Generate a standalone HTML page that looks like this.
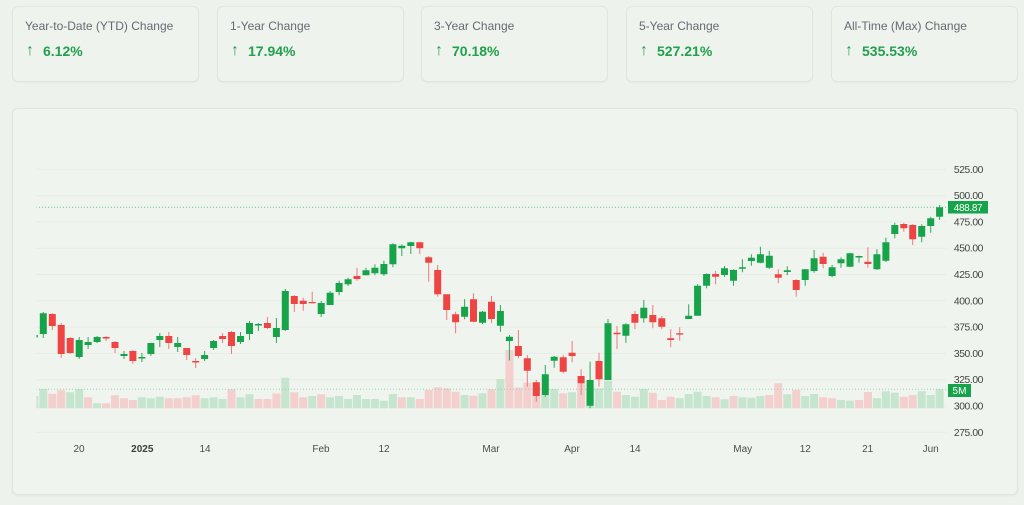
<!DOCTYPE html>
<html><head><meta charset="utf-8">
<style>
html,body{margin:0;padding:0;}
body{width:1024px;height:505px;background:#edf2ed;position:relative;overflow:hidden;font-family:"Liberation Sans",Arial,sans-serif;}
.card{position:absolute;top:6px;width:187px;height:76px;box-sizing:border-box;border:1px solid #dfe6e0;border-radius:6px;background:#eef3ee;box-shadow:0 1px 1px rgba(0,0,0,0.03);}
.card .t{position:absolute;left:12px;top:12px;font-size:12px;line-height:14px;color:#656b72;white-space:nowrap;}
.card .a{position:absolute;left:13px;top:35px;font-size:16px;line-height:17px;color:#22a34f;}
.card .v{position:absolute;left:30px;top:36px;font-size:14px;line-height:16px;font-weight:bold;color:#22a04d;white-space:nowrap;}
.chart{position:absolute;left:12px;top:108px;width:1006px;height:387px;box-sizing:border-box;border:1px solid #dfe6e0;border-radius:6px;background:#eff4ef;box-shadow:0 1px 2px rgba(0,0,0,0.05);}
svg{position:absolute;left:0;top:0;}
</style></head>
<body>
<div class="card" style="left:12px"><div class="t">Year-to-Date (YTD) Change</div><div class="a">↑</div><div class="v">6.12%</div></div>
<div class="card" style="left:217px"><div class="t">1-Year Change</div><div class="a">↑</div><div class="v">17.94%</div></div>
<div class="card" style="left:421px"><div class="t">3-Year Change</div><div class="a">↑</div><div class="v">70.18%</div></div>
<div class="card" style="left:626px"><div class="t">5-Year Change</div><div class="a">↑</div><div class="v">527.21%</div></div>
<div class="card" style="left:831px"><div class="t">All-Time (Max) Change</div><div class="a">↑</div><div class="v">535.53%</div></div>
<div class="chart"></div>
<svg width="1024" height="505" viewBox="0 0 1024 505" xmlns="http://www.w3.org/2000/svg">
<defs><clipPath id="pl"><rect x="36.5" y="110" width="910" height="330"/></clipPath></defs>
<g stroke="#e8ece8" stroke-width="1">
<path d="M36 169.3H946M36 195.6H946M36 221.9H946M36 248.2H946M36 274.5H946M36 300.8H946M36 327.1H946M36 353.4H946M36 379.7H946M36 406H946M36 432.3H946"/>
</g>
<g clip-path="url(#pl)">
<path fill="#c6e5cf" d="M30.3 396h8V408.3h-8zM39.3 389h8V408.3h-8zM66.2 392.3h8V408.3h-8zM75.2 389h8V408.3h-8zM93.1 403.3h8V408.3h-8zM137.9 397.3h8V408.3h-8zM146.9 398.3h8V408.3h-8zM155.8 396.7h8V408.3h-8zM200.6 398.3h8V408.3h-8zM209.6 397.3h8V408.3h-8zM218.6 399h8V408.3h-8zM236.5 397.3h8V408.3h-8zM245.5 394.3h8V408.3h-8zM281.3 377.7h8V408.3h-8zM308.2 396h8V408.3h-8zM326.1 397.3h8V408.3h-8zM335.1 396h8V408.3h-8zM344.1 399h8V408.3h-8zM353 395h8V408.3h-8zM362 399h8V408.3h-8zM370.9 399h8V408.3h-8zM379.9 400.7h8V408.3h-8zM388.9 394h8V408.3h-8zM406.8 397.3h8V408.3h-8zM460.6 395h8V408.3h-8zM478.5 393.3h8V408.3h-8zM496.4 379h8V408.3h-8zM541.3 395h8V408.3h-8zM550.2 389h8V408.3h-8zM568.1 392.3h8V408.3h-8zM586.1 388.3h8V408.3h-8zM595 388.3h8V408.3h-8zM604 380.7h8V408.3h-8zM621.9 395h8V408.3h-8zM630.9 396.7h8V408.3h-8zM639.8 389h8V408.3h-8zM675.7 398.3h8V408.3h-8zM684.7 394h8V408.3h-8zM693.6 391.7h8V408.3h-8zM702.6 396h8V408.3h-8zM720.5 399.3h8V408.3h-8zM738.4 397.3h8V408.3h-8zM747.4 397.7h8V408.3h-8zM756.4 396h8V408.3h-8zM783.3 394.3h8V408.3h-8zM801.2 396h8V408.3h-8zM810.1 394h8V408.3h-8zM837 400h8V408.3h-8zM846 400.7h8V408.3h-8zM872.9 398.3h8V408.3h-8zM881.9 391.3h8V408.3h-8zM890.8 392.7h8V408.3h-8zM917.7 391.3h8V408.3h-8zM926.7 395h8V408.3h-8zM935.6 389.3h8V408.3h-8z"/>
<path fill="#f3cfce" d="M48.3 393.7h8V408.3h-8zM57.2 390.3h8V408.3h-8zM84.1 397.3h8V408.3h-8zM102.1 403.3h8V408.3h-8zM111 395.3h8V408.3h-8zM120 398.3h8V408.3h-8zM128.9 400h8V408.3h-8zM164.8 398.3h8V408.3h-8zM173.7 398.3h8V408.3h-8zM182.7 397.3h8V408.3h-8zM191.7 395.3h8V408.3h-8zM227.5 389.3h8V408.3h-8zM254.4 399h8V408.3h-8zM263.4 399h8V408.3h-8zM272.4 393.5h8V408.3h-8zM290.3 392.3h8V408.3h-8zM299.2 397.3h8V408.3h-8zM317.2 394.3h8V408.3h-8zM397.8 397.3h8V408.3h-8zM415.8 399h8V408.3h-8zM424.7 390h8V408.3h-8zM433.7 387.3h8V408.3h-8zM442.7 388.3h8V408.3h-8zM451.6 391.7h8V408.3h-8zM469.5 395.7h8V408.3h-8zM487.5 389.3h8V408.3h-8zM505.4 350h8V408.3h-8zM514.4 387.5h8V408.3h-8zM523.3 382.7h8V408.3h-8zM532.3 382.3h8V408.3h-8zM559.2 393.3h8V408.3h-8zM577.1 383.3h8V408.3h-8zM613 391.7h8V408.3h-8zM648.8 392.7h8V408.3h-8zM657.8 400h8V408.3h-8zM666.7 396.7h8V408.3h-8zM711.6 397.3h8V408.3h-8zM729.5 396h8V408.3h-8zM765.3 395h8V408.3h-8zM774.3 383.3h8V408.3h-8zM792.2 390h8V408.3h-8zM819.1 397.3h8V408.3h-8zM828.1 398.3h8V408.3h-8zM855 400h8V408.3h-8zM863.9 392h8V408.3h-8zM899.8 396.7h8V408.3h-8zM908.7 395h8V408.3h-8z"/>
<line x1="36" y1="389.3" x2="946" y2="389.3" stroke="#9fd3ad" stroke-width="1" stroke-dasharray="1 2"/>
<line x1="36" y1="207.3" x2="946" y2="207.3" stroke="#6cc187" stroke-width="1" stroke-dasharray="1 2"/>
<path fill="none" stroke="#2fa85a" stroke-width="1" d="M34.3 334V338M43.3 312V338M79.2 337V359M88.1 337V349M97.1 336V343M124 351V359M141.9 353V362M150.9 343V356M159.8 333V347M177.7 337V352M204.6 351V361M213.6 340V350M240.5 332V344M249.5 321V340M258.4 323V331M276.4 318V343M285.3 289V331M321.2 301V317M330.1 291V305M339.1 280.7V295.3M348.1 277.7V286M366 267.7V275.3M374.9 264.3V275.3M383.9 260.7V275.7M392.9 243.3V267.3M401.8 244.3V256M410.8 241.7V254M464.6 299.3V319.3M482.5 311V324M500.4 305V331.7M509.4 335V360.5M545.3 365V396.7M554.2 356V367.7M590.1 361.7V408.3M608 319V380M625.9 323.3V342.7M643.8 300V322.7M688.7 304.3V319M697.6 284.3V315.7M706.6 273.3V288.3M724.5 266V276.7M733.5 269.3V285.7M742.4 259.3V272.3M751.4 254.3V265.7M760.4 246.7V263.3M769.3 251V269M787.3 266.3V275.3M805.2 269V285.7M814.1 250V272.7M832.1 265V277.3M841 257.3V267.7M850 252.7V267.3M859 255.7V262.7M876.9 249.3V270M885.9 237.7V262M894.8 222.7V238.3M921.7 224.3V242.3M930.7 216.7V232.7M939.6 205V220"/>
<path fill="none" stroke="#f17a7a" stroke-width="1" d="M52.3 313V330M61.2 323V358M70.2 337V354M106.1 336V341M115 341V353M132.9 350V364M168.8 332V349M186.7 348V360M195.7 358V368M222.6 333V343M231.5 331V354M267.4 317V329M294.3 295V312M303.2 297.7V310.7M312.2 291.7V303.2M357 267.7V280.7M419.8 241.7V254M428.7 256V281.7M437.7 265V296.7M446.7 294.3V320M455.6 311.7V333.3M473.5 293.3V322.3M491.5 296V323.3M518.4 330V358.3M527.3 355V386.7M536.3 380V401.7M563.2 355V373.3M572.1 341V362.3M581.1 369.3V395M599 352.7V386.7M617 326V349M634.9 311V329.3M652.8 305V328.3M661.8 316V329.3M670.7 329.3V347.3M679.7 327.3V340.7M715.6 271V284.3M778.3 269.3V283.3M796.2 279.3V296.7M823.1 252.7V268.3M867.9 247.3V267.7M903.8 222.7V231.7M912.7 224V245"/>
<path fill="#16a34a" d="M30.8 335h7V337.5h-7zM39.8 313.3h7V334h-7zM75.7 340h7V357h-7zM84.6 342h7V345h-7zM93.6 337h7V342h-7zM120.5 354h7V356h-7zM138.4 357h7V358.5h-7zM147.4 343h7V354h-7zM156.3 336h7V340h-7zM174.2 343h7V347h-7zM201.1 355h7V359h-7zM210.1 341h7V348h-7zM237 336h7V342h-7zM246 323h7V334h-7zM254.9 324h7V325.5h-7zM272.9 328h7V337h-7zM281.8 291h7V330h-7zM317.7 303h7V314h-7zM326.6 292.7h7V305h-7zM335.6 283h7V292h-7zM344.6 279.3h7V284.3h-7zM362.5 270.3h7V275.3h-7zM371.4 267.7h7V273.3h-7zM380.4 264h7V274.3h-7zM389.4 244.3h7V264.3h-7zM398.3 245.7h7V248.3h-7zM407.3 242.3h7V246h-7zM461.1 306.7h7V316.7h-7zM479 311.7h7V322.7h-7zM496.9 311h7V325.7h-7zM505.9 336.7h7V341h-7zM541.8 374.3h7V395h-7zM550.7 356.7h7V360.7h-7zM586.6 380h7V405.7h-7zM604.5 323.3h7V380h-7zM622.4 324.3h7V335.7h-7zM640.3 307.7h7V318.3h-7zM685.2 315.7h7V319h-7zM694.1 285.7h7V315.7h-7zM703.1 274h7V285.7h-7zM721 268.3h7V275h-7zM730 270h7V280.7h-7zM738.9 267.3h7V268.8h-7zM747.9 257.7h7V261h-7zM756.9 254.3h7V262.7h-7zM765.8 255.7h7V267.7h-7zM783.8 270.3h7V272h-7zM801.7 269.3h7V280h-7zM810.6 258.3h7V271h-7zM828.6 267.3h7V276h-7zM837.5 259.3h7V263.3h-7zM846.5 253.3h7V266.7h-7zM855.5 256h7V257.5h-7zM873.4 254.3h7V269.3h-7zM882.4 242.3h7V260.7h-7zM891.3 225h7V234h-7zM918.2 226h7V236.7h-7zM927.2 218.3h7V226h-7zM936.1 207.3h7V216.7h-7z"/>
<path fill="#ef4444" d="M48.8 314h7V326h-7zM57.7 325h7V354h-7zM66.7 338h7V353h-7zM102.6 337h7V338.5h-7zM111.5 342h7V348h-7zM129.4 351h7V361h-7zM165.3 336h7V343h-7zM183.2 348h7V355h-7zM192.2 361h7V362.5h-7zM219.1 336h7V339h-7zM228 332h7V346h-7zM263.9 323h7V328h-7zM290.8 296h7V304h-7zM299.7 300.7h7V304h-7zM308.7 302h7V303.2h-7zM353.5 276h7V279h-7zM416.3 242.3h7V248.3h-7zM425.2 257.3h7V262.7h-7zM434.2 270h7V294.3h-7zM443.2 294.3h7V310h-7zM452.1 314.3h7V322.3h-7zM470 299.3h7V321.7h-7zM488 301.7h7V319h-7zM514.9 346h7V356h-7zM523.8 358.3h7V370.7h-7zM532.8 382.3h7V396h-7zM559.7 357.3h7V371.7h-7zM568.6 352.7h7V356h-7zM577.6 376h7V383.3h-7zM595.5 361h7V379.3h-7zM613.5 332.7h7V334.3h-7zM631.4 314h7V322.7h-7zM649.3 315h7V322.3h-7zM658.3 318.3h7V326.7h-7zM667.2 338.3h7V340h-7zM676.2 333.3h7V334.6h-7zM712.1 274h7V276.7h-7zM774.8 274.3h7V277.7h-7zM792.7 280h7V290h-7zM819.6 256.7h7V264h-7zM864.4 261.7h7V264h-7zM900.3 224h7V228.3h-7zM909.2 225h7V239.3h-7z"/>
</g>
<g font-family="Liberation Sans, Arial, sans-serif" font-size="10.3" fill="#3f443f" text-anchor="end" letter-spacing="-0.4">
<text x="983" y="172.8">525.00</text>
<text x="983" y="199.1">500.00</text>
<text x="983" y="225.4">475.00</text>
<text x="983" y="251.7">450.00</text>
<text x="983" y="278">425.00</text>
<text x="983" y="304.3">400.00</text>
<text x="983" y="330.6">375.00</text>
<text x="983" y="356.9">350.00</text>
<text x="983" y="383.2">325.00</text>
<text x="983" y="409.5">300.00</text>
<text x="983" y="435.8">275.00</text>
</g>
<rect x="948" y="201" width="40" height="12.5" fill="#16a34a"/>
<text x="968" y="210.8" font-family="Liberation Sans, Arial, sans-serif" font-size="10" fill="#ffffff" text-anchor="middle" letter-spacing="-0.35">488.87</text>
<rect x="948" y="384" width="23" height="13" fill="#16a34a"/>
<text x="959.5" y="394" font-family="Liberation Sans, Arial, sans-serif" font-size="10" fill="#ffffff" text-anchor="middle">5M</text>
<g font-family="Liberation Sans, Arial, sans-serif" font-size="10" fill="#4a4f4a" text-anchor="middle">
<text x="79" y="452">20</text>
<text x="142.3" y="452" font-weight="bold" fill="#3a3f3a">2025</text>
<text x="205" y="452">14</text>
<text x="321" y="452">Feb</text>
<text x="384" y="452">12</text>
<text x="491" y="452">Mar</text>
<text x="572" y="452">Apr</text>
<text x="635" y="452">14</text>
<text x="742.7" y="452">May</text>
<text x="805.3" y="452">12</text>
<text x="867.7" y="452">21</text>
<text x="930.7" y="452">Jun</text>
</g>
</svg>
</body></html>
